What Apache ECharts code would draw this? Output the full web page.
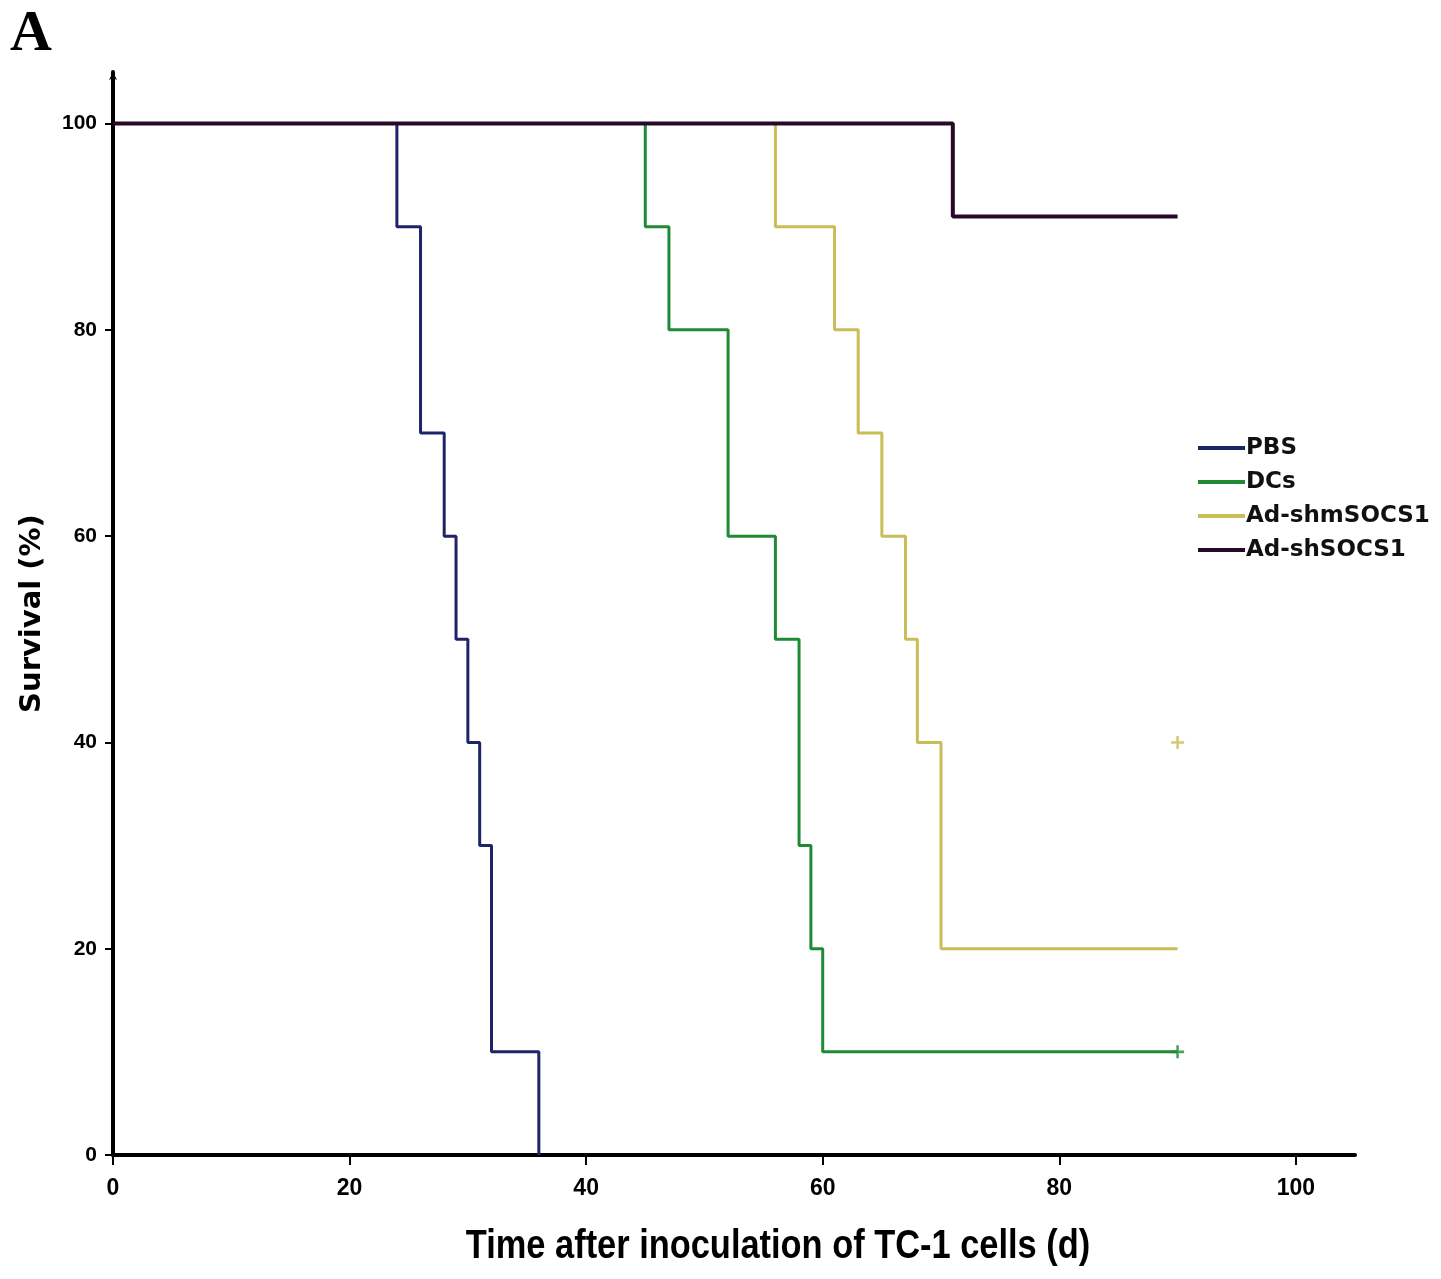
<!DOCTYPE html>
<html>
<head>
<meta charset="utf-8">
<title>Survival</title>
<script src="https://cdn.jsdelivr.net/npm/echarts@6/dist/echarts.min.js"></script>
<style>
  html, body { margin: 0; padding: 0; background: #fff; }
  #main { width: 1441px; height: 1279px; }
</style>
</head>
<body>
<div id="main"></div>
<script>
// Kaplan-Meier steps: [day, survival %]
var pbsData = [[0, 100], [24, 90], [26, 70], [28, 60], [29, 50], [30, 40], [31, 30], [32, 10], [36, 0]];
var dcsData = [[0, 100], [45, 90], [47, 80], [52, 60], [56, 50], [58, 30], [59, 20], [60, 10], [90, 10]];
var shmData = [[0, 100], [56, 90], [61, 80], [63, 70], [65, 60], [67, 50], [68, 40], [70, 20], [90, 20]];
var shData = [[0, 100], [71, 91], [90, 91]];

// censored marks (+)
var dcsCensor = [[90, 10]];
var shmCensor = [[90, 40]];

var seriesNames = ['PBS', 'DCs', 'Ad-shmSOCS1', 'Ad-shSOCS1'];
var seriesColors = ['#1d2468', '#1f8a36', '#c9bd58', '#260a28'];
var tickValues = [0, 20, 40, 60, 80, 100];

var plus = 'path://M4,0h2v4h4v2h-4v4h-2v-4h-4v-2h4z';

var myChart = echarts.init(document.getElementById('main'));

function stepSeries(name, data, color, w) {
    return {
        name: name,
        type: 'line',
        step: 'end',
        data: data,
        showSymbol: false,
        symbol: 'none',
        lineStyle: { color: color, width: w },
        itemStyle: { color: color }
    };
}

function censorSeries(name, data, color) {
    return {
        name: name,
        type: 'scatter',
        data: data,
        symbol: plus,
        symbolSize: 13,
        itemStyle: { color: color }
    };
}

var seriesArr = [
    stepSeries(seriesNames[0], pbsData, seriesColors[0], 3),
    stepSeries(seriesNames[1], dcsData, seriesColors[1], 3),
    stepSeries(seriesNames[2], shmData, seriesColors[2], 3),
    stepSeries(seriesNames[3], shData, seriesColors[3], 4),
    censorSeries('censor-dcs', dcsCensor, seriesColors[1]),
    censorSeries('censor-shm', shmCensor, seriesColors[2])
];

myChart.setOption({
    animation: false,
    backgroundColor: '#fff',
    grid: { left: 113, right: 86, top: 72, bottom: 124, containLabel: false, outerBoundsMode: 'none' },
    graphic: [{
        type: 'text',
        left: 10,
        top: 6,
        style: {
            text: 'A',
            fontFamily: 'Liberation Serif, serif',
            fontWeight: 'bold',
            fontSize: 58,
            fill: '#000'
        }
    }, {
        // x axis title, condensed like the original
        type: 'text',
        x: 778,
        y: 1247,
        scaleX: 0.86,
        style: {
            text: 'Time after inoculation of TC-1 cells (d)',
            fontFamily: 'Liberation Sans, Arial, sans-serif',
            fontWeight: 'bold',
            fontSize: 40,
            fill: '#000',
            align: 'center',
            verticalAlign: 'middle'
        }
    }],
    legend: {
        data: seriesNames.map(function (n, i) {
            return { name: n, icon: 'rect', itemStyle: { color: seriesColors[i] } };
        }),
        orient: 'vertical',
        left: 1193,
        top: 431,
        itemWidth: 47,
        itemHeight: 4,
        itemGap: 10,
        textStyle: {
            fontFamily: 'DejaVu Sans, sans-serif',
            fontWeight: 'bold',
            fontSize: 23,
            lineHeight: 24,
            color: '#111',
            padding: [0, 0, 0, -4]
        }
    },
    xAxis: {
        type: 'value',
        min: 0,
        max: 105,
        interval: 20,
        splitLine: { show: false },
        axisLine: { lineStyle: { color: '#000', width: 4 } },
        axisTick: { show: true, customValues: tickValues, length: 10, lineStyle: { color: '#000', width: 2 } },
        axisLabel: {
            customValues: tickValues,
            margin: 22,
            fontFamily: 'Liberation Sans, Arial, sans-serif',
            fontWeight: 'bold',
            fontSize: 23,
            color: '#000'
        }
    },
    yAxis: {
        type: 'value',
        min: 0,
        max: 105,
        interval: 20,
        splitLine: { show: false },
        axisLine: {
            lineStyle: { color: '#000', width: 4 },
            symbol: ['none', 'arrow'],
            symbolSize: [6, 8]
        },
        axisTick: { show: true, customValues: tickValues, length: 8, lineStyle: { color: '#000', width: 2 } },
        axisLabel: {
            customValues: tickValues,
            margin: 16,
            fontFamily: 'Liberation Sans, Arial, sans-serif',
            fontWeight: 'bold',
            fontSize: 21,
            color: '#000'
        },
        name: 'Survival (%)',
        nameLocation: 'middle',
        nameGap: 66,
        nameTextStyle: {
            fontFamily: 'DejaVu Sans, sans-serif',
            fontWeight: 'bold',
            fontSize: 29,
            color: '#000'
        }
    },
    series: seriesArr
});
</script>
</body>
</html>
